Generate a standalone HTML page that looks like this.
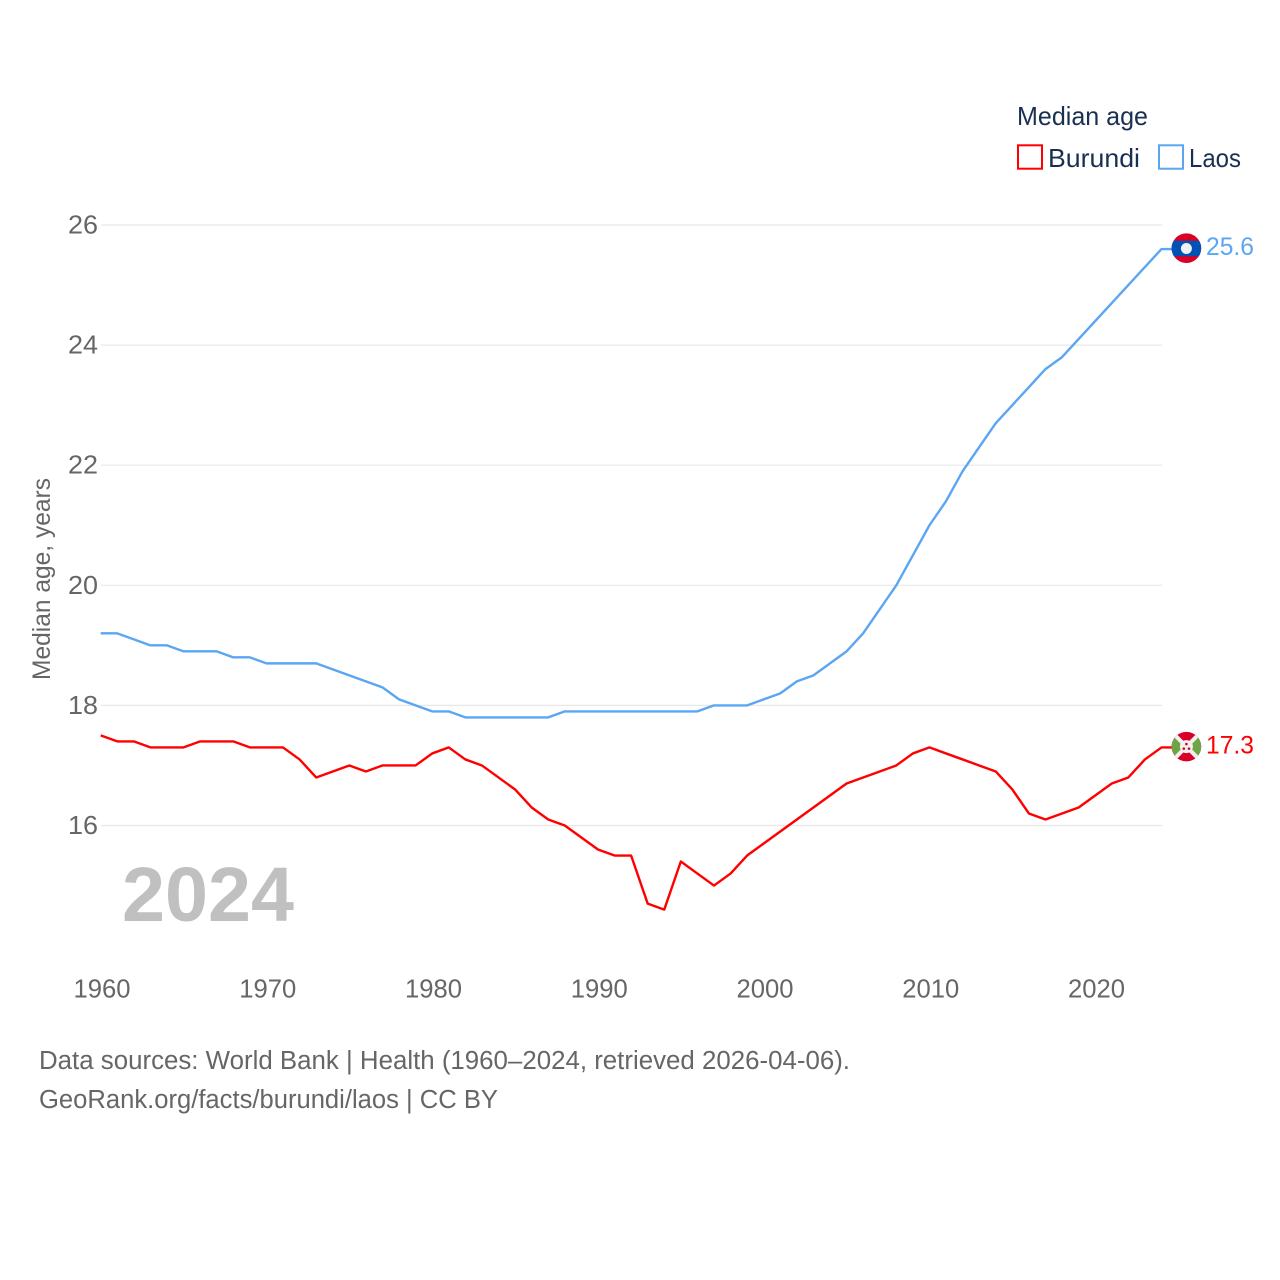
<!DOCTYPE html>
<html lang="en">
<head>
<meta charset="utf-8">
<title>Median age: Burundi and Laos</title>
<style>
html,body{margin:0;padding:0;background:#fff;}
svg{display:block;font-family:"Liberation Sans",sans-serif;}
</style>
</head>
<body>
<svg id="chart" xmlns="http://www.w3.org/2000/svg" width="1280" height="1280" viewBox="0 0 1280 1280">
  <defs>
    <clipPath id="flag-clip"><circle cx="0" cy="0" r="14.8"></circle></clipPath>
  </defs>
  <rect x="0" y="0" width="1280" height="1280" fill="#ffffff"></rect>
  <g id="grid"></g>
  <g id="yticks"></g>
  <g id="xticks"></g>
  <text transform="translate(50,579) rotate(-90)" text-anchor="middle" font-size="25" fill="#666666" textLength="202" lengthAdjust="spacingAndGlyphs">Median age, years</text>
  <text x="122" y="921" font-size="77" font-weight="700" fill="#c0c0c0" textLength="172" lengthAdjust="spacingAndGlyphs">2024</text>

  <path id="line-burundi" fill="none" stroke="#ff0000" stroke-width="2.4" stroke-linejoin="round"></path>
  <path id="line-laos" fill="none" stroke="#5ba6f2" stroke-width="2.4" stroke-linejoin="round"></path>

  <g id="flag-laos">
    <g clip-path="url(#flag-clip)">
      <rect x="-16" y="-16" width="32" height="32" fill="#d80027"></rect>
      <rect x="-16" y="-7.5" width="32" height="15.5" fill="#0052b4"></rect>
      <circle cx="0" cy="0.3" r="5.5" fill="#f0f0f0"></circle>
    </g>
  </g>
  <g id="flag-burundi">
    <g clip-path="url(#flag-clip)">
      <rect x="-16" y="-16" width="32" height="32" fill="#d80027"></rect>
      <path d="M-16,-16 L0,0 L-16,16 Z" fill="#6da544"></path>
      <path d="M16,-16 L0,0 L16,16 Z" fill="#6da544"></path>
      <path d="M-16,-16 L16,16 M16,-16 L-16,16" stroke="#f0f0f0" stroke-width="4"></path>
      <circle cx="0" cy="0" r="6.5" fill="#f0f0f0"></circle>
      <circle cx="0" cy="-2.6" r="1.3" fill="#d80027"></circle>
      <circle cx="-2.6" cy="2" r="1.3" fill="#d80027"></circle>
      <circle cx="2.6" cy="2" r="1.3" fill="#d80027"></circle>
    </g>
  </g>
  <text id="label-laos" x="1206" font-size="25" fill="#5ba6f2" textLength="48" lengthAdjust="spacingAndGlyphs"></text>
  <text id="label-burundi" x="1206" font-size="25" fill="#ff0000" textLength="48" lengthAdjust="spacingAndGlyphs"></text>

  <g>
    <text x="1017" y="125" font-size="26" fill="#1a3052" textLength="131" lengthAdjust="spacingAndGlyphs">Median age</text>
    <g>
      <rect x="1018" y="145.3" width="24" height="23.4" fill="#ffffff" stroke="#ff0000" stroke-width="2"></rect>
      <text x="1048" y="167" font-size="26" fill="#1a3052" textLength="92" lengthAdjust="spacingAndGlyphs">Burundi</text>
    </g>
    <g>
      <rect x="1159" y="145.3" width="24" height="23.4" fill="#ffffff" stroke="#5ba6f2" stroke-width="2"></rect>
      <text x="1189" y="167" font-size="26" fill="#1a3052" textLength="52" lengthAdjust="spacingAndGlyphs">Laos</text>
    </g>
  </g>

  <text x="39" y="1069" font-size="25.5" fill="#666666" textLength="811" lengthAdjust="spacingAndGlyphs">Data sources: World Bank | Health (1960–2024, retrieved 2026-04-06).</text>
  <text x="39" y="1108" font-size="25.5" fill="#666666" textLength="459" lengthAdjust="spacingAndGlyphs">GeoRank.org/facts/burundi/laos | CC BY</text>
</svg>
<script>
const years = [1960,1961,1962,1963,1964,1965,1966,1967,1968,1969,1970,1971,1972,1973,1974,1975,1976,1977,1978,1979,1980,1981,1982,1983,1984,1985,1986,1987,1988,1989,1990,1991,1992,1993,1994,1995,1996,1997,1998,1999,2000,2001,2002,2003,2004,2005,2006,2007,2008,2009,2010,2011,2012,2013,2014,2015,2016,2017,2018,2019,2020,2021,2022,2023,2024];
const burundi = [17.5,17.4,17.4,17.3,17.3,17.3,17.4,17.4,17.4,17.3,17.3,17.3,17.1,16.8,16.9,17.0,16.9,17.0,17.0,17.0,17.2,17.3,17.1,17.0,16.8,16.6,16.3,16.1,16.0,15.8,15.6,15.5,15.5,14.7,14.6,15.4,15.2,15.0,15.2,15.5,15.7,15.9,16.1,16.3,16.5,16.7,16.8,16.9,17.0,17.2,17.3,17.2,17.1,17.0,16.9,16.6,16.2,16.1,16.2,16.3,16.5,16.7,16.8,17.1,17.3];
const laos = [19.2,19.2,19.1,19.0,19.0,18.9,18.9,18.9,18.8,18.8,18.7,18.7,18.7,18.7,18.6,18.5,18.4,18.3,18.1,18.0,17.9,17.9,17.8,17.8,17.8,17.8,17.8,17.8,17.9,17.9,17.9,17.9,17.9,17.9,17.9,17.9,17.9,18.0,18.0,18.0,18.1,18.2,18.4,18.5,18.7,18.9,19.2,19.6,20.0,20.5,21.0,21.4,21.9,22.3,22.7,23.0,23.3,23.6,23.8,24.1,24.4,24.7,25.0,25.3,25.6];
const yTickLabels = [16,18,20,22,24,26];
const xTickLabels = [1960,1970,1980,1990,2000,2010,2020];

const SVG_NS = 'http://www.w3.org/2000/svg';
function xScale(year){ return 100.7 + (year - 1960) * (1161.5 - 100.7) / 64; }
function yScale(v){ return 825.5 - (v - 16) * (825.5 - 225) / 10; }

const gridGroup = document.getElementById('grid');
const yGroup = document.getElementById('yticks');
const xGroup = document.getElementById('xticks');

yTickLabels.forEach(function(t){
  const line = document.createElementNS(SVG_NS, 'line');
  
  
  line.setAttribute('x1', 101);
  line.setAttribute('x2', 1162);
  line.setAttribute('y1', yScale(t));
  line.setAttribute('y2', yScale(t));
  line.setAttribute('stroke', '#e8e8e8');
  line.setAttribute('stroke-width', '1.2');
  gridGroup.appendChild(line);

  const label = document.createElementNS(SVG_NS, 'text');
  
  
  label.setAttribute('x', 68);
  label.setAttribute('y', yScale(t) + 8.5);
  label.setAttribute('font-size', '25.5');
  label.setAttribute('fill', '#666666');
  label.setAttribute('textLength', '30');
  label.setAttribute('lengthAdjust', 'spacingAndGlyphs');
  label.textContent = t;
  yGroup.appendChild(label);
});

xTickLabels.forEach(function(t){
  const label = document.createElementNS(SVG_NS, 'text');
  
  
  label.setAttribute('x', xScale(t) - 27.2);
  label.setAttribute('y', 997.5);
  label.setAttribute('font-size', '25.5');
  label.setAttribute('fill', '#666666');
  label.setAttribute('textLength', '57');
  label.setAttribute('lengthAdjust', 'spacingAndGlyphs');
  label.textContent = t;
  xGroup.appendChild(label);
});

function linePath(values){
  let d = values.map(function(v, i){
    return (i ? 'L' : 'M') + xScale(years[i]).toFixed(2) + ',' + yScale(v).toFixed(2);
  }).join(' ');
  d += ' L1172,' + yScale(values[values.length - 1]).toFixed(2);
  return d;
}
function placeEnd(values, flagId, labelId){
  const last = values[values.length - 1];
  const y = yScale(last);
  document.getElementById(flagId).setAttribute('transform', 'translate(1186.4,' + (y - 0.8) + ')');
  const label = document.getElementById(labelId);
  label.setAttribute('y', y + 6);
  label.textContent = last.toFixed(1);
}
document.getElementById('line-burundi').setAttribute('d', linePath(burundi));
document.getElementById('line-laos').setAttribute('d', linePath(laos));
placeEnd(laos, 'flag-laos', 'label-laos');
placeEnd(burundi, 'flag-burundi', 'label-burundi');
</script>
</body>
</html>
